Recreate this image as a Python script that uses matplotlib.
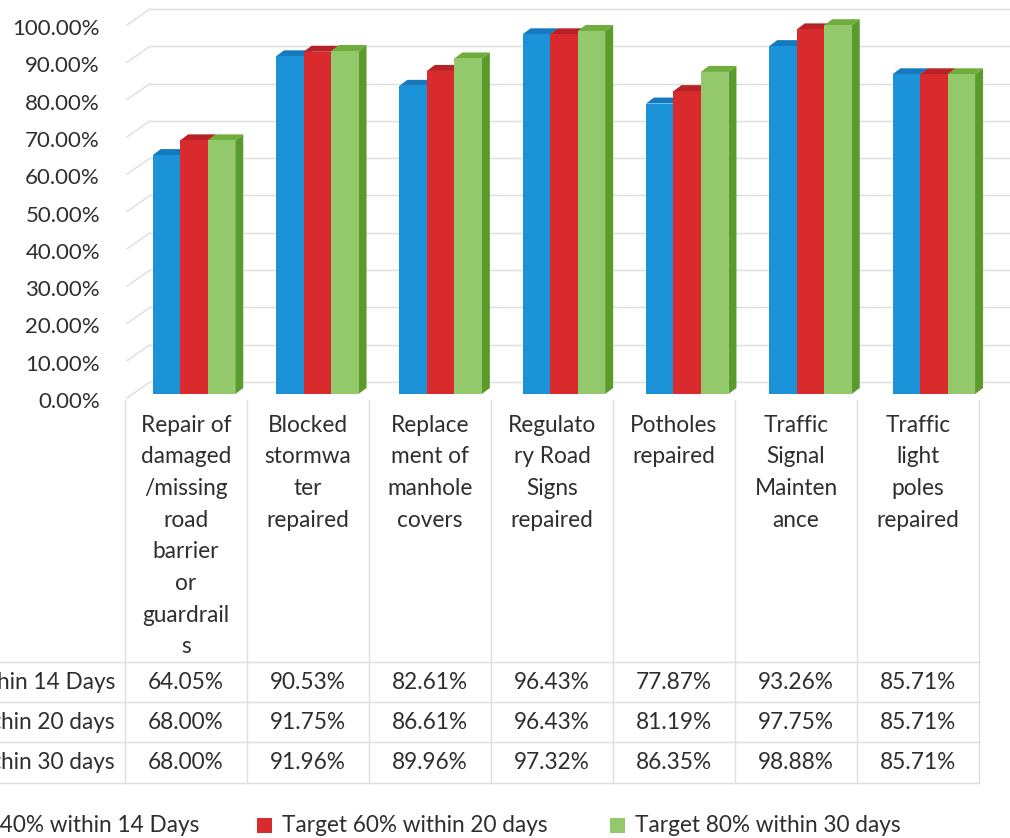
import matplotlib
matplotlib.use("Agg")
import matplotlib.pyplot as plt
from matplotlib.patches import Polygon, Rectangle
from matplotlib.lines import Line2D
from matplotlib.transforms import ScaledTranslation
import numpy as np

# ---------------- data ----------------
categories = [
    "Repair of\ndamaged\n/missing\nroad\nbarrier\nor\nguardrail\ns",
    "Blocked\nstormwa\nter\nrepaired",
    "Replace\nment of\nmanhole\ncovers",
    "Regulato\nry Road\nSigns\nrepaired",
    "Potholes\nrepaired",
    "Traffic\nSignal\nMainten\nance",
    "Traffic\nlight\npoles\nrepaired",
]
series_names = [
    "Target 40% within 14 Days",
    "Target 60% within 20 days",
    "Target 80% within 30 days",
]
within_14_days = [64.05, 90.53, 82.61, 96.43, 77.87, 93.26, 85.71]
within_20_days = [68.00, 91.75, 86.61, 96.43, 81.19, 97.75, 85.71]
within_30_days = [68.00, 91.96, 89.96, 97.32, 86.35, 98.88, 85.71]
y_ticks = [0, 10, 20, 30, 40, 50, 60, 70, 80, 90, 100]

# ---------------- style ----------------
front_colors = ["#1c92d9", "#d92a2e", "#93c86b"]
side_colors = ["#0d6aa8", "#a51d21", "#5b9b2c"]
top_colors = ["#1479bd", "#b82227", "#6fae3c"]
text_color = "#2e2e2e"
grid_color = "#dedede"
FONT = "Lato"
FS = 16.3

W, H = 1010, 838
fig = plt.figure(figsize=(W / 100, H / 100), dpi=100)
fig.patch.set_facecolor("white")


def fx(x):
    return x / W


def fy(y):
    return 1 - y / H


# axes area (pixels): left 125, right 1010, top 0, bottom 400
ax = fig.add_axes([fx(125), fy(400), (W - 125) / W, 400 / H])
ax.set_facecolor("none")
cat_px = 123.3           # pixel spacing between categories
first_center = 194.0     # pixel x of first group centre
px_per_unit = 3.73       # pixels per percentage point
zero_px = 394.0
ax.set_xlim((125 - first_center) / cat_px, (W - first_center) / cat_px)
ax.set_ylim(-(400 - zero_px) / px_per_unit, zero_px / px_per_unit)
for s in ax.spines.values():
    s.set_visible(False)

# 3D wall gridlines
back_dy = 12 / px_per_unit
side_dy = -4 / px_per_unit
x_side_front = (127 - first_center) / cat_px
x_side_back = (150 - first_center) / cat_px
x_right = ax.get_xlim()[1]
for v in y_ticks:
    ax.plot([x_side_front, x_side_back], [v + side_dy, v + back_dy],
            color=grid_color, lw=1.0, zorder=1, clip_on=False)
    ax.plot([x_side_back, x_right], [v + back_dy, v + back_dy],
            color=grid_color, lw=1.0, zorder=1, clip_on=False)

# bars with pseudo-3D faces
series = [within_14_days, within_20_days, within_30_days]
x = np.arange(len(categories))
bw = 27.5 / cat_px
dx = 8 / cat_px
dy = 6 / px_per_unit
for k, vals in enumerate(series):
    bars = ax.bar(x + (k - 1) * bw, vals, width=bw, color=front_colors[k],
                  linewidth=0, zorder=4, label=series_names[k])
    for r in bars:
        x0, w, h = r.get_x(), r.get_width(), r.get_height()
        side = Polygon([(x0 + w, 0), (x0 + w + dx, dy), (x0 + w + dx, h + dy), (x0 + w, h)],
                       closed=True, facecolor=side_colors[k], edgecolor="none", zorder=2 + k * 0.1)
        top = Polygon([(x0, h), (x0 + dx, h + dy), (x0 + w + dx, h + dy), (x0 + w, h)],
                      closed=True, facecolor=top_colors[k], edgecolor="none", zorder=2 + k * 0.1)
        ax.add_patch(side)
        ax.add_patch(top)

# y tick labels
ax.set_yticks(y_ticks)
ax.set_yticklabels([f"{v:.2f}%" for v in y_ticks], fontsize=FS - 0.3, family=FONT, color=text_color)
ax.tick_params(axis="y", length=0, pad=18)
ax.tick_params(axis="x", length=0, labelbottom=False)
off = ScaledTranslation(0, -6 / 100, fig.dpi_scale_trans)
for lab in ax.get_yticklabels():
    lab.set_transform(lab.get_transform() + off)

# ---------------- data table ----------------
col_left = 125
col_w = 122
n = len(categories)
row_lines = [662, 702, 742, 783]
row_centers = [682, 722, 762]


def hline(y, x0, x1):
    fig.add_artist(Line2D([fx(x0), fx(x1)], [fy(y), fy(y)], color=grid_color, lw=1.0,
                          transform=fig.transFigure))


def vline(xp, y0, y1):
    fig.add_artist(Line2D([fx(xp), fx(xp)], [fy(y0), fy(y1)], color=grid_color, lw=1.0,
                          transform=fig.transFigure))


for i in range(n + 1):
    vline(col_left + i * col_w, 400, row_lines[-1])
for y in row_lines:
    hline(y, 0, col_left + n * col_w)

for i, cat in enumerate(categories):
    cx = col_left + (i + 0.5) * col_w
    for j, line in enumerate(cat.split("\n")):
        fig.text(fx(cx), fy(425 + j * 31.7), line, ha="center", va="center",
                 fontsize=FS, family=FONT, color=text_color)

for r, (name, vals) in enumerate(zip(series_names, series)):
    fig.text(fx(115), fy(row_centers[r]), name, ha="right", va="center",
             fontsize=FS, family=FONT, color=text_color)
    for i, v in enumerate(vals):
        cx = col_left + (i + 0.5) * col_w
        fig.text(fx(cx), fy(row_centers[r]), f"{v:.2f}%", ha="center", va="center",
                 fontsize=FS, family=FONT, color=text_color)

# ---------------- legend ----------------
legend_y = 825
text_starts = [-71, 282, 635]
for k, name in enumerate(series_names):
    ts = text_starts[k]
    fig.add_artist(Rectangle((fx(ts - 25), fy(legend_y + 7.5)), 15 / W, 15 / H,
                             facecolor=front_colors[k], edgecolor="none",
                             transform=fig.transFigure))
    fig.text(fx(ts), fy(legend_y), name, ha="left", va="center",
             fontsize=FS, family=FONT, color=text_color)

fig.savefig("out.png", dpi=100)
